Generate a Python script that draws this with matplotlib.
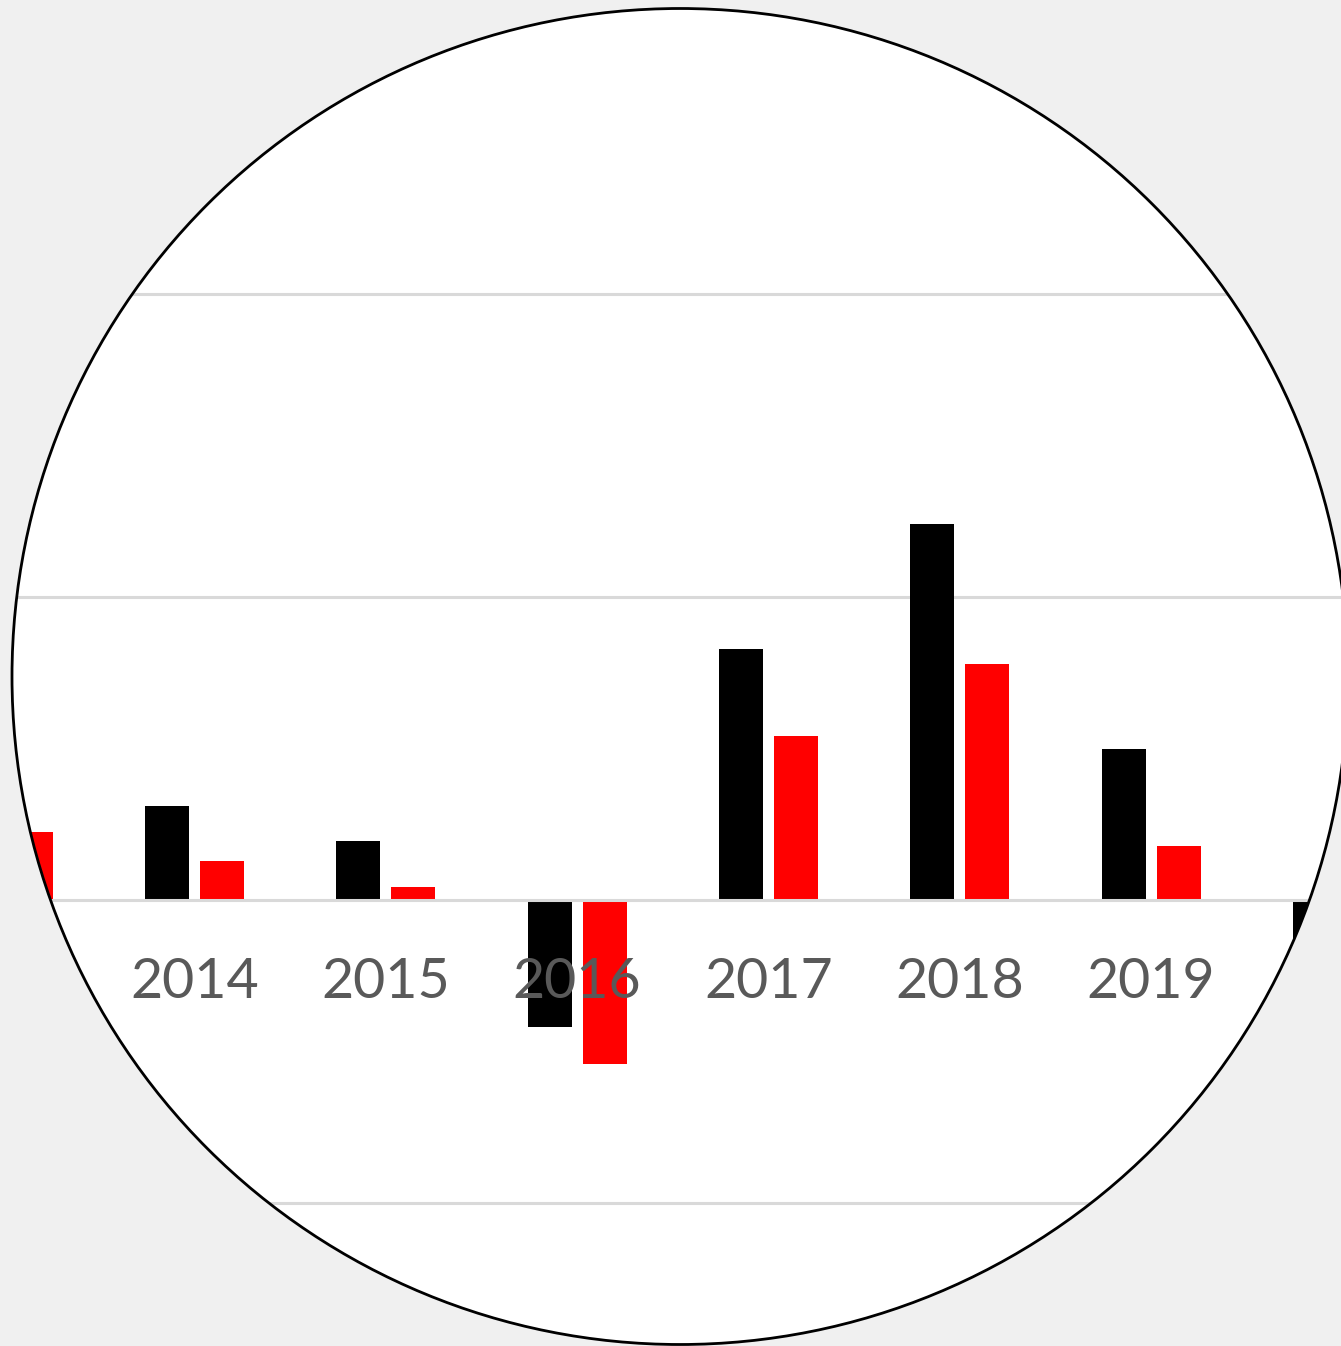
import numpy as np
import matplotlib
matplotlib.use("Agg")
import matplotlib.pyplot as plt
from matplotlib.patches import Ellipse

# ---- data ----
years = [2013, 2014, 2015, 2016, 2017, 2018, 2019, 2020]
black_vals = [np.nan, 0.31, 0.195, -0.42, 0.83, 1.24, 0.50, -0.30]
red_vals = [0.224, 0.13, 0.043, -0.54, 0.54, 0.78, 0.178, np.nan]
label_years = ["2014", "2015", "2016", "2017", "2018", "2019"]
grid_levels = [-1, 0, 1, 2]

W, H = 1341, 1346
fig = plt.figure(figsize=(W / 100, H / 100), dpi=100)
fig.patch.set_facecolor("#f0f0f0")
ax = fig.add_axes([0, 0, 1, 1])
ax.set_facecolor("none")
ax.axis("off")

# pixel-derived layout
spacing_px = 191.3
x0_px = 194.5      # centre of 2014 group
zero_px = 900.0
unit_px = 303.0
ax.set_xlim(1 - x0_px / spacing_px, 1 + (W - x0_px) / spacing_px)
ax.set_ylim((zero_px - H) / unit_px, zero_px / unit_px)

# circle (in axes coordinates)
cx, cy, r = 680.0, 676.5, 668.0
circ_kw = dict(xy=(cx / W, 1 - cy / H), width=2 * r / W, height=2 * r / H,
               transform=ax.transAxes)
bg = Ellipse(facecolor="white", edgecolor="none", zorder=0, **circ_kw)
ax.add_patch(bg)
clip = Ellipse(facecolor="none", edgecolor="none", **circ_kw)
ax.add_patch(clip)
clip.set_visible(False)
edge = Ellipse(facecolor="none", edgecolor="black", linewidth=2.0, zorder=10, **circ_kw)
ax.add_patch(edge)

idx = np.arange(len(years))
bw = 44 / spacing_px
off = 27.5 / spacing_px
b1 = ax.bar(idx - off, black_vals, width=bw, color="black", zorder=2)
b2 = ax.bar(idx + off, red_vals, width=bw, color="#ff0000", zorder=2)
for p in list(b1) + list(b2):
    p.set_clip_path(clip)

for g in grid_levels:
    ln = ax.axhline(g, color="#d9d9d9", linewidth=2.2, zorder=3 if g == 0 else 1)
    ln.set_clip_path(clip)

for lab in label_years:
    i = years.index(int(lab))
    t = ax.text(i, (zero_px - 998) / unit_px, lab, ha="center", va="baseline",
                fontsize=40, color="#595959", zorder=4,
                family=["Lato", "DejaVu Sans"])
    t.set_clip_path(clip)

fig.savefig("out.png", dpi=100, facecolor=fig.get_facecolor())
